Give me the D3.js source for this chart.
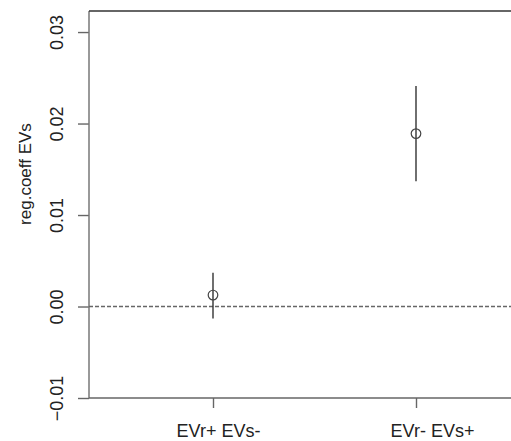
<!DOCTYPE html>
<html>
<head>
<meta charset="utf-8">
<script src="https://cdn.jsdelivr.net/npm/d3@7"></script>
<style>
  body { margin: 0; background: #fff; }
  svg { display: block; }
</style>
</head>
<body>
<svg id="graph"></svg>
<script>
// groups and their estimates (regression coefficient with interval)
var groups = ['EVr+ EVs-', 'EVr- EVs+'];
var estimate = [0.00125, 0.0189];
var lower = [-0.0013, 0.0137];
var upper = [0.0037, 0.0241];
var yTicks = [-0.01, 0.00, 0.01, 0.02, 0.03];

var svgWidth = 511;
var svgHeight = 441;
var svg = d3.select('#graph')
    .attr('width', svgWidth)
    .attr('height', svgHeight);

var plotLeft = 89, plotTop = 11, plotBottom = 398;

var y = d3.scaleLinear()
    .domain([-0.01, 0.0323])
    .range([plotBottom, plotTop]);

var x = d3.scalePoint()
    .domain(groups)
    .range([213, 416]);

// y axis
var yAxis = svg.append('g')
    .attr('transform', 'translate(' + plotLeft + ',0)')
    .call(d3.axisLeft(y).tickValues(yTicks).tickFormat(d3.format('.2f')).tickSize(11));
yAxis.select('.domain').remove();
yAxis.selectAll('line').attr('stroke', '#666').attr('stroke-width', 1.4);
yAxis.selectAll('.tick text')
    .attr('x', null)
    .attr('dy', null)
    .attr('transform', 'translate(-26,0) rotate(-90)')
    .attr('text-anchor', 'middle')
    .attr('font-family', 'Liberation Sans, Arial, sans-serif')
    .attr('font-size', 18)
    .attr('fill', '#222');

svg.append('line')
    .attr('x1', plotLeft).attr('x2', plotLeft)
    .attr('y1', plotTop).attr('y2', plotBottom)
    .attr('stroke', '#777').attr('stroke-width', 1.5);

// top border
svg.append('line')
    .attr('x1', plotLeft).attr('x2', svgWidth)
    .attr('y1', plotTop).attr('y2', plotTop)
    .attr('stroke', '#333').attr('stroke-width', 1.3);

// x axis
var xAxis = svg.append('g')
    .attr('transform', 'translate(0,' + plotBottom + ')')
    .call(d3.axisBottom(x).tickSize(10).tickPadding(16));
xAxis.select('.domain').remove();
xAxis.selectAll('line').attr('stroke', '#666').attr('stroke-width', 1.4);
var labelShift = [5, 16];
xAxis.selectAll('text')
    .attr('font-family', 'Liberation Sans Narrow, Liberation Sans, sans-serif')
    .attr('font-size', 18)
    .attr('fill', '#222')
    .attr('dx', function(d, i) { return labelShift[i]; });

svg.append('line')
    .attr('x1', plotLeft).attr('x2', svgWidth)
    .attr('y1', plotBottom).attr('y2', plotBottom)
    .attr('stroke', '#666').attr('stroke-width', 1.4);

// zero reference line
svg.append('line')
    .attr('x1', plotLeft).attr('x2', svgWidth)
    .attr('y1', y(0)).attr('y2', y(0))
    .attr('stroke', '#666').attr('stroke-width', 1.3)
    .attr('stroke-dasharray', '4,2');

// y label
svg.append('text')
    .attr('transform', 'translate(31,174) rotate(-90)')
    .attr('text-anchor', 'middle')
    .attr('font-family', 'Liberation Sans, Arial, sans-serif')
    .attr('font-size', 17)
    .attr('fill', '#222')
    .text('reg.coeff EVs');

// error bars
svg.selectAll('line.err')
    .data(groups)
    .enter()
    .append('line')
    .attr('class', 'err')
    .attr('x1', d => x(d)).attr('x2', d => x(d))
    .attr('y1', (d, i) => y(lower[i]))
    .attr('y2', (d, i) => y(upper[i]))
    .attr('stroke', '#333').attr('stroke-width', 1.4);

svg.selectAll('circle')
    .data(groups)
    .enter()
    .append('circle')
    .attr('cx', d => x(d))
    .attr('cy', (d, i) => y(estimate[i]))
    .attr('r', 4.8)
    .attr('fill', 'none')
    .attr('stroke', '#444')
    .attr('stroke-width', 1.2);
</script>
</body>
</html>
